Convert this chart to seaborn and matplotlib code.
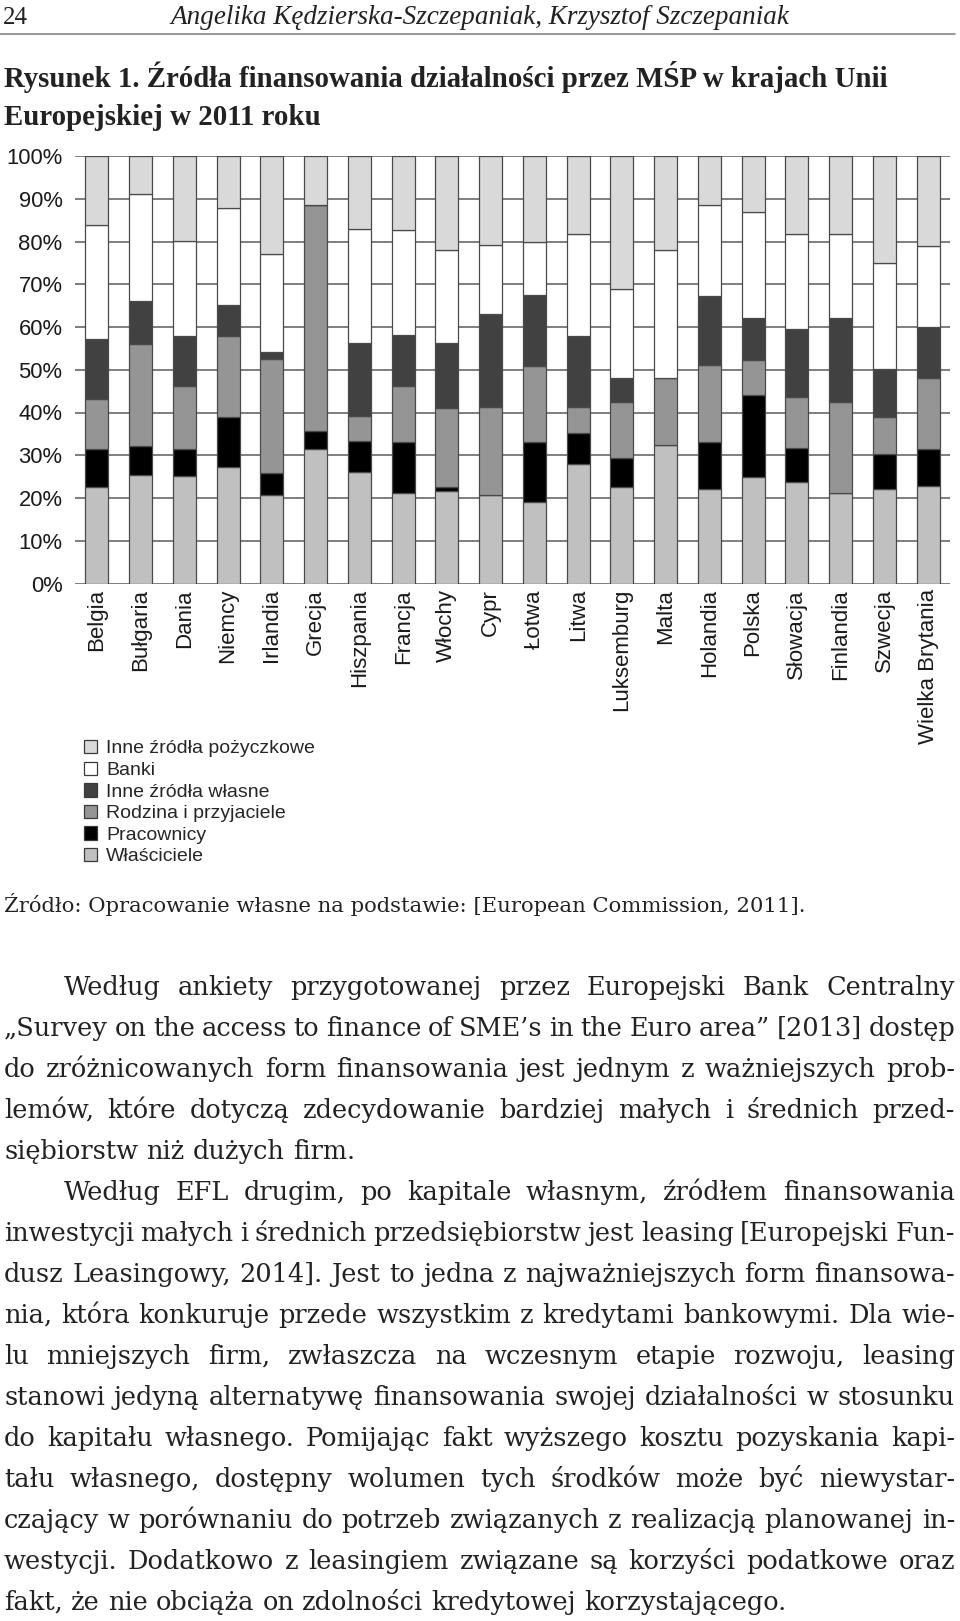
import matplotlib
matplotlib.use("Agg")
import matplotlib.pyplot as plt
from matplotlib.patches import Patch
import seaborn as sns
import numpy as np

# ---------------- data ----------------
countries = ["Belgia", "Bułgaria", "Dania", "Niemcy", "Irlandia", "Grecja",
             "Hiszpania", "Francja", "Włochy", "Cypr", "Łotwa", "Litwa",
             "Luksemburg", "Malta", "Holandia", "Polska", "Słowacja",
             "Finlandia", "Szwecja", "Wielka Brytania"]

wlasciciele     = [22.6, 25.3, 25.1, 27.3, 20.7, 31.4, 26.1, 21.1, 21.6, 20.7,
                   19.1, 27.9, 22.6, 32.5, 22.2, 25.0, 23.7, 21.1, 22.0, 22.9]
pracownicy      = [8.8, 6.8, 6.3, 11.7, 5.2, 4.2, 7.2, 12.1, 0.9, 0.0,
                   14.1, 7.2, 6.7, 0.0, 11.0, 19.1, 8.0, 0.0, 8.3, 8.6]
rodzina         = [11.7, 24.0, 14.7, 18.9, 26.5, 53.0, 5.9, 12.9, 18.6, 20.6,
                   17.7, 6.2, 13.1, 15.5, 18.0, 8.2, 12.0, 21.3, 8.7, 16.5]
inne_wlasne     = [14.1, 10.0, 11.9, 7.2, 1.7, 0.0, 17.1, 12.1, 15.2, 21.8,
                   16.5, 16.7, 5.6, 0.0, 16.1, 9.9, 15.8, 19.8, 11.1, 11.9]
banki           = [26.7, 25.0, 22.1, 22.8, 23.0, 0.0, 26.6, 24.4, 21.7, 16.0,
                   12.4, 23.7, 21.0, 30.0, 21.2, 24.6, 22.2, 19.5, 24.9, 19.0]
inne_pozyczkowe = [16.1, 8.9, 19.9, 12.1, 22.9, 11.4, 17.1, 17.4, 22.0, 20.9,
                   20.2, 18.3, 31.0, 22.0, 11.5, 13.2, 18.3, 18.3, 25.0, 21.1]

series_names = ["Właściciele", "Pracownicy", "Rodzina i przyjaciele",
                "Inne źródła własne", "Banki", "Inne źródła pożyczkowe"]
series_values = [wlasciciele, pracownicy, rodzina, inne_wlasne, banki, inne_pozyczkowe]
series_colors = ["#c0c0c0", "#000000", "#959595", "#414141", "#ffffff", "#d9d9d9"]

yticks = [0, 10, 20, 30, 40, 50, 60, 70, 80, 90, 100]
ytick_labels = [f"{v}%" for v in yticks]

header_page = "24"
header_authors = "Angelika Kędzierska-Szczepaniak, Krzysztof Szczepaniak"
title_lines = ["Rysunek 1. Źródła finansowania działalności przez MŚP w krajach Unii",
               "Europejskiej w 2011 roku"]
source_text = "Źródło: Opracowanie własne na podstawie: [European Commission, 2011]."

paragraph1 = [
    "Według ankiety przygotowanej przez Europejski Bank Centralny",
    "„Survey on the access to finance of SME’s in the Euro area” [2013] dostęp",
    "do zróżnicowanych form finansowania jest jednym z ważniejszych prob-",
    "lemów, które dotyczą zdecydowanie bardziej małych i średnich przed-",
    "siębiorstw niż dużych firm.",
]
paragraph2 = [
    "Według EFL drugim, po kapitale własnym, źródłem finansowania",
    "inwestycji małych i średnich przedsiębiorstw jest leasing [Europejski Fun-",
    "dusz Leasingowy, 2014]. Jest to jedna z najważniejszych form finansowa-",
    "nia, która konkuruje przede wszystkim z kredytami bankowymi. Dla wie-",
    "lu mniejszych firm, zwłaszcza na wczesnym etapie rozwoju, leasing",
    "stanowi jedyną alternatywę finansowania swojej działalności w stosunku",
    "do kapitału własnego. Pomijając fakt wyższego kosztu pozyskania kapi-",
    "tału własnego, dostępny wolumen tych środków może być niewystar-",
    "czający w porównaniu do potrzeb związanych z realizacją planowanej in-",
    "westycji. Dodatkowo z leasingiem związane są korzyści podatkowe oraz",
    "fakt, że nie obciąża on zdolności kredytowej korzystającego.",
]

# ---------------- figure ----------------
W, H = 960, 1621
DPI = 100
sns.set_theme(style="white")
plt.rcParams["font.family"] = ["Liberation Sans", "DejaVu Sans"]

fig = plt.figure(figsize=(W / DPI, H / DPI), dpi=DPI)
fig.patch.set_facecolor("white")

def fx(px):
    return px / W

def fy(py):
    return 1 - py / H

ax_left, ax_right, ax_top, ax_bottom = 75, 950, 156, 583.5
ax = fig.add_axes([fx(ax_left), fy(ax_bottom), (ax_right - ax_left) / W,
                   (ax_bottom - ax_top) / H])

bottom = np.zeros(len(countries))
for name, vals, col in zip(series_names, series_values, series_colors):
    vals = np.asarray(vals, dtype=float)
    sns.barplot(x=countries, y=vals, bottom=bottom, color=col, saturation=1,
                width=0.53, edgecolor="#4a4a4a", linewidth=0.9, ax=ax,
                errorbar=None, zorder=3)
    bottom = bottom + vals

ax.set_xlim(-0.5, len(countries) - 0.5)
ax.set_ylim(0, 100)
ax.set_yticks(yticks)
ax.set_yticklabels(ytick_labels)
ax.set_axisbelow(True)
ax.grid(axis="y", color="#747474", linewidth=1.3, zorder=0)
ax.grid(axis="x", visible=False)
for s in ax.spines.values():
    s.set_visible(False)
ax.tick_params(axis="y", length=0, pad=9, labelsize=15.8, labelcolor="#1a1a1a")
ax.tick_params(axis="x", length=0, pad=4, labelsize=16, labelcolor="#1a1a1a",
               labelrotation=90)
ax.set_xlabel("")
ax.set_ylabel("")

# legend (reverse order of stacking)
handles = [Patch(facecolor=c, edgecolor="#3a3a3a", linewidth=0.9, label=n)
           for n, c in zip(series_names[::-1], series_colors[::-1])]
fig.legend(handles=handles, loc="upper left",
           bbox_to_anchor=(fx(84), fy(740)), frameon=False, fontsize=14,
           handlelength=0.68, handleheight=0.68, handletextpad=0.45,
           labelspacing=0.21, borderpad=0, borderaxespad=0)

# ---------------- page text ----------------
renderer = fig.canvas.get_renderer()

def measure(s, size, family, weight="normal", style="normal"):
    t = fig.text(0, 0, s, fontsize=size, family=family, weight=weight, style=style)
    w = t.get_window_extent(renderer).width
    t.remove()
    return w

def fit_size(s, target_px, family, weight="normal", style="normal"):
    w = measure(s, 20, family, weight, style)
    return 20 * target_px / w

# header
serif_t = ["Liberation Serif", "DejaVu Serif"]
fig.text(fx(3), fy(24), header_page, fontsize=18, family=serif_t, va="baseline",
         ha="left", color="#222222")
hsize = fit_size(header_authors, 618, serif_t, style="italic")
fig.text(fx(480), fy(24), header_authors, fontsize=hsize, family=serif_t,
         style="italic", ha="center", va="baseline", color="#222222")
fig.add_artist(plt.Line2D([0, fx(955)], [fy(34), fy(34)], color="#888888",
                          linewidth=1.2, transform=fig.transFigure))

# title
tsize = fit_size(title_lines[0], 882, serif_t, weight="bold")
fig.text(fx(4), fy(87), title_lines[0], fontsize=tsize, family=serif_t,
         weight="bold", ha="left", va="baseline", color="#222222")
fig.text(fx(4), fy(125), title_lines[1], fontsize=tsize, family=serif_t,
         weight="bold", ha="left", va="baseline", color="#222222")

# source
body_family = ["DejaVu Serif"]
ssize = fit_size(source_text, 799, body_family)
fig.text(fx(4), fy(912), source_text, fontsize=ssize, family=body_family,
         ha="left", va="baseline", color="#222222")

# body (justified)
bsize = fit_size(paragraph2[-1], 783, body_family)
space_px = measure("a a", bsize, body_family) - measure("aa", bsize, body_family)

def draw_line(text, x0, x1, ybase, justify):
    words = text.split(" ")
    widths = [measure(w_, bsize, body_family) for w_ in words]
    if justify and len(words) > 1:
        gap = (x1 - x0 - sum(widths)) / (len(words) - 1)
        gap = max(gap, space_px * 0.35)
    else:
        gap = space_px
    x = x0
    for w_, wd in zip(words, widths):
        fig.text(fx(x), fy(ybase), w_, fontsize=bsize, family=body_family,
                 ha="left", va="baseline", color="#222222")
        x += wd + gap

left_margin, right_margin, indent = 4, 955, 64
base0, spacing = 995, 41.0
row = 0
for para in (paragraph1, paragraph2):
    for i, line in enumerate(para):
        x0 = indent if i == 0 else left_margin
        draw_line(line, x0, right_margin, base0 + row * spacing,
                  justify=(i < len(para) - 1))
        row += 1

fig.savefig("out.png", dpi=DPI)
